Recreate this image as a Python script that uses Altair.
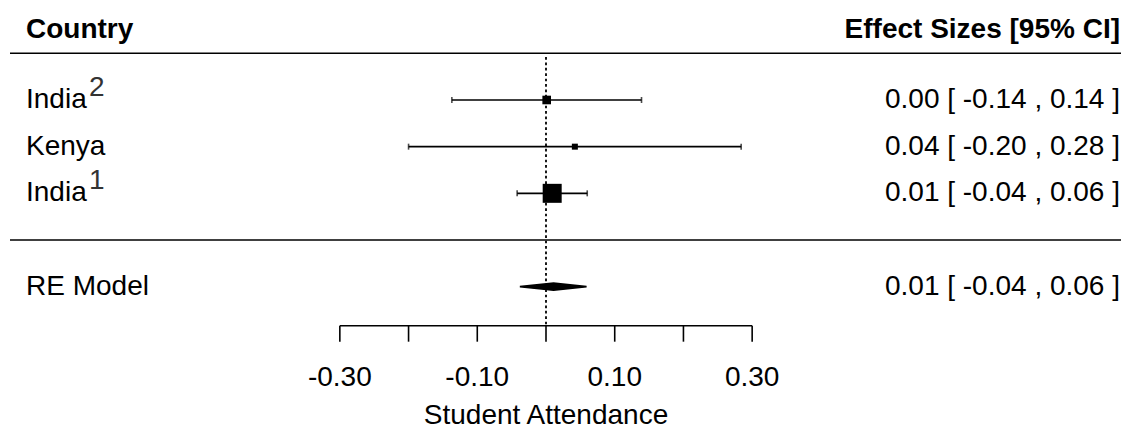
import altair as alt
import pandas as pd

# ---------------- data ----------------
studies = ["India", "Kenya", "India"]
superscripts = ["2", "", "1"]
rows = [3, 2, 1]
estimates = [0.001, 0.042, 0.009]
ci_lower = [-0.137, -0.200, -0.042]
ci_upper = [0.139, 0.284, 0.060]

re_label = "RE Model"
re_row = -1
re_estimate = 0.011
re_lower = -0.038
re_upper = 0.059

axis_ticks = [-0.3, -0.2, -0.1, 0.0, 0.1, 0.2, 0.3]
axis_label_values = [-0.3, -0.1, 0.1, 0.3]
axis_label_text = ["-0.30", "-0.10", "0.10", "0.30"]

header_left = "Country"
header_right = "Effect Sizes [95% CI]"
x_title = "Student Attendance"

# ---------------- layout ----------------
W, H = 1113, 423
PX_PER_UNIT = 687.2
ZERO_PX = 538.0
ROW_PX = 46.67
ROW0_PX = 232.0
FONT = "Liberation Sans"
FS = 28
RIGHT_X = 1112

x_dom = [-ZERO_PX / PX_PER_UNIT, (W - ZERO_PX) / PX_PER_UNIT]
y_dom = [(ROW0_PX - H) / ROW_PX, ROW0_PX / ROW_PX]
xs = alt.Scale(domain=x_dom, nice=False, zero=False)
ys = alt.Scale(domain=y_dom, nice=False, zero=False)

HEADER_ROW = 4.5
HEADER_LINE_ROW = 4.0
SEP_ROW = 0.0
REF_TOP = 3.92
AXIS_ROW = -1.836
TICK_LEN = 16 / ROW_PX
TICK_LABEL_ROW = -2.957
TITLE_ROW = -3.78

def fmt(e, l, u):
    return f"{e:.2f} [ {l:.2f} , {u:.2f} ]"

df = pd.DataFrame({
    "study": studies, "sup": superscripts, "row": rows,
    "est": estimates, "lo": ci_lower, "hi": ci_upper,
})
prec = 3.92 / (df["hi"] - df["lo"])
side = 6 + (prec - prec.min()) / (prec.max() - prec.min()) * 13
df["psize"] = side ** 2

labels = pd.DataFrame({
    "name": studies + [re_label],
    "row": rows + [re_row],
    "txt": [fmt(e, l, u) for e, l, u in zip(estimates, ci_lower, ci_upper)]
           + [fmt(re_estimate, re_lower, re_upper)],
})
sups = df[df["sup"] != ""][["sup", "row"]]

caps = pd.concat([
    df[["row"]].assign(x=df["lo"]),
    df[["row"]].assign(x=df["hi"]),
])

dh = 3.5 / ROW_PX
diamond = pd.DataFrame({
    "x": [re_lower, re_estimate, re_upper],
    "y": [re_row, re_row - dh, re_row],
    "y2": [re_row, re_row + dh, re_row],
})

ticks = pd.DataFrame({"x": axis_ticks})
ticklabels = pd.DataFrame({"x": axis_label_values, "t": axis_label_text})

hlines = pd.DataFrame({"y": [HEADER_LINE_ROW, SEP_ROW]})

base_x = lambda f: alt.X(f, type="quantitative", scale=xs, axis=None)
base_y = lambda f: alt.Y(f, type="quantitative", scale=ys, axis=None)

layers = []

# horizontal header / separator lines
layers.append(
    alt.Chart(hlines).mark_rule(color="black", strokeWidth=1.6).encode(
        x=alt.value(2), x2=alt.value(W), y=base_y("y")
    )
)

# dotted reference line at 0
layers.append(
    alt.Chart(pd.DataFrame({"x": [0.0], "y": [REF_TOP], "y2": [AXIS_ROW]}))
    .mark_rule(color="black", strokeWidth=1.8, strokeDash=[2.7, 2.7])
    .encode(x=base_x("x"), y=base_y("y"), y2="y2:Q")
)

# CI lines
layers.append(
    alt.Chart(df).mark_rule(color="black", strokeWidth=1.6).encode(
        x=base_x("lo"), x2="hi:Q", y=base_y("row")
    )
)
# CI caps
layers.append(
    alt.Chart(caps).mark_tick(color="black", orient="vertical", size=6, thickness=1.6).encode(
        x=base_x("x"), y=base_y("row")
    )
)
# squares
layers.append(
    alt.Chart(df).mark_square(color="black", filled=True, opacity=1).encode(
        x=base_x("est"), y=base_y("row"), size=alt.Size("psize:Q", scale=None)
    )
)
# RE diamond
layers.append(
    alt.Chart(diamond).mark_area(color="black", stroke="black", strokeWidth=1.6,
                                 interpolate="linear", orient="vertical", opacity=1).encode(
        x=base_x("x"), y=base_y("y"), y2="y2:Q"
    )
)

# axis
layers.append(
    alt.Chart(pd.DataFrame({"x": [axis_ticks[0]], "x2": [axis_ticks[-1]], "y": [AXIS_ROW]}))
    .mark_rule(color="black", strokeWidth=1.6)
    .encode(x=base_x("x"), x2="x2:Q", y=base_y("y"))
)
layers.append(
    alt.Chart(ticks.assign(y=AXIS_ROW, y2=AXIS_ROW - TICK_LEN))
    .mark_rule(color="black", strokeWidth=1.6)
    .encode(x=base_x("x"), y=base_y("y"), y2="y2:Q")
)
layers.append(
    alt.Chart(ticklabels.assign(y=TICK_LABEL_ROW))
    .mark_text(font=FONT, fontSize=FS, color="black", align="center", baseline="middle")
    .encode(x=base_x("x"), y=base_y("y"), text="t:N")
)
layers.append(
    alt.Chart(pd.DataFrame({"x": [0.0], "y": [TITLE_ROW], "t": [x_title]}))
    .mark_text(font=FONT, fontSize=FS, color="black", align="center", baseline="middle")
    .encode(x=base_x("x"), y=base_y("y"), text="t:N")
)

# left column names
layers.append(
    alt.Chart(labels).mark_text(font=FONT, fontSize=FS, color="black", align="left",
                                baseline="middle").encode(
        x=alt.value(18), y=base_y("row"), text="name:N"
    )
)
layers.append(
    alt.Chart(sups).mark_text(font=FONT, fontSize=FS, color="#333333", align="left",
                              baseline="middle", dy=-12).encode(
        x=alt.value(81), y=base_y("row"), text="sup:N"
    )
)
# right column
layers.append(
    alt.Chart(labels).mark_text(font=FONT, fontSize=FS, color="black", align="right",
                                baseline="middle").encode(
        x=alt.value(RIGHT_X), y=base_y("row"), text="txt:N"
    )
)
# headers
layers.append(
    alt.Chart(pd.DataFrame({"y": [HEADER_ROW], "t": [header_left]}))
    .mark_text(font=FONT, fontSize=FS, fontWeight="bold", color="black", align="left", baseline="middle")
    .encode(x=alt.value(18), y=base_y("y"), text="t:N")
)
layers.append(
    alt.Chart(pd.DataFrame({"y": [HEADER_ROW], "t": [header_right]}))
    .mark_text(font=FONT, fontSize=FS, fontWeight="bold", color="black", align="right", baseline="middle")
    .encode(x=alt.value(RIGHT_X), y=base_y("y"), text="t:N")
)

chart = alt.layer(*layers).properties(
    width=W, height=H, padding=0, autosize=alt.AutoSizeParams(type="none"),
    background="white",
).configure_view(stroke=None)

chart.save("out.html", embed_options={"renderer": "svg", "actions": False})
